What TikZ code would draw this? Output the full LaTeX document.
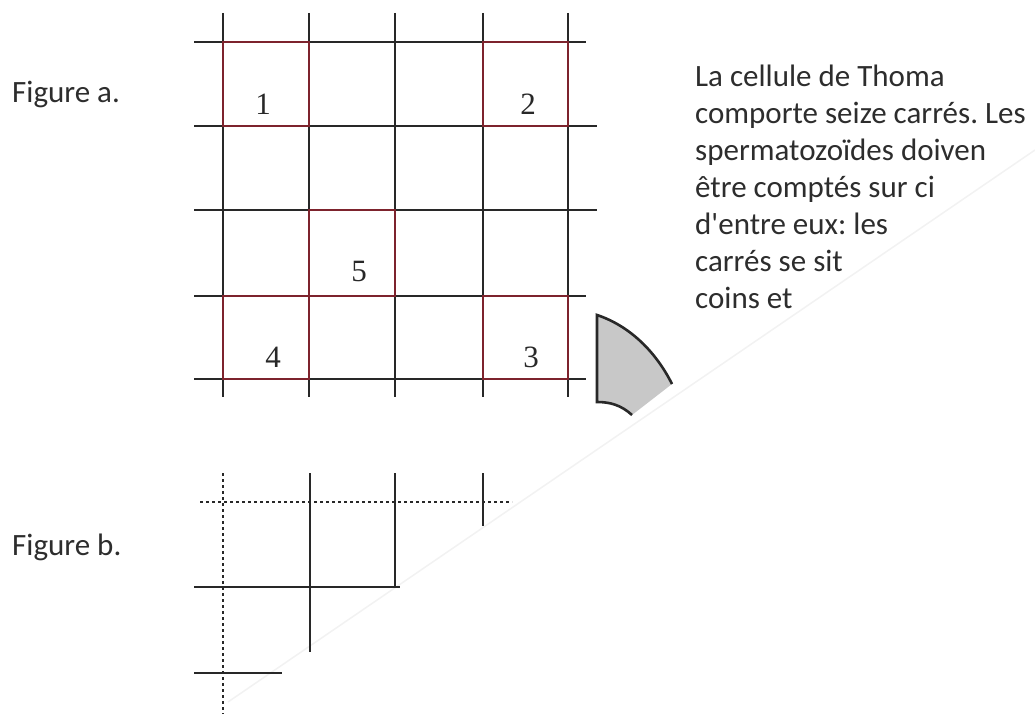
\documentclass[tikz,border=0pt]{standalone}
\usepackage{fontspec}
\setmainfont{Carlito}[Ligatures=TeXOff]
\newfontfamily\chiffres{Liberation Serif}
\usepackage{xcolor}
\usepackage{tikz}
\usetikzlibrary{positioning}
\definecolor{grille}{RGB}{40,40,40}
\definecolor{bordeaux}{RGB}{125,35,45}
\definecolor{gristexte}{RGB}{45,45,45}
\definecolor{grisfond}{RGB}{200,200,200}
\frenchspacing
\tikzset{
  trait/.style={draw=grille,line width=2.1pt},
  carre/.style={draw=bordeaux,line width=2.6pt},
  pointille/.style={draw=grille,line width=2.6pt,dash pattern=on 2.6pt off 3.4pt},
  chiffre/.style={font=\chiffres\fontsize{31}{31}\selectfont,text=grille,inner sep=0pt},
  legende/.style={font=\fontsize{31}{37}\selectfont,text=gristexte,inner sep=0pt}
}

\begin{document}
\begin{tikzpicture}[x=1pt,y=-1pt]
\useasboundingbox (0,0) rectangle (1035,714);
% pli du papier
\draw[black!5,line width=1.5pt] (228,702) -- (1035,150);
% Figure a : cellule de Thoma
\draw[trait] (223,13) -- (223,397);
\draw[trait] (309,13) -- (309,397);
\draw[trait] (395,13) -- (395,397);
\draw[trait] (483,13) -- (483,397);
\draw[trait] (568,13) -- (568,397);
\draw[trait] (194,42) -- (586,42);
\draw[trait] (194,126) -- (597,126);
\draw[trait] (194,210) -- (597,210);
\draw[trait] (194,296) -- (586,296);
\draw[trait] (194,379) -- (586,379);
\draw[carre] (223,42) rectangle (309,126);
\draw[carre] (483,42) rectangle (568,126);
\draw[carre] (309,210) rectangle (395,296);
\draw[carre] (223,296) rectangle (309,379);
\draw[carre] (483,296) rectangle (568,379);
\node[chiffre] (c1) at (263,104) {1};
\node[chiffre] (c2) at (528,104) {2};
\node[chiffre] (c5) at (359,272) {5};
\node[chiffre] (c4) at (273,357) {4};
\node[chiffre] (c3) at (531,357) {3};
% secteur grise
\fill[grisfond] (597,315) .. controls (630,326) and (656,352) .. (672,384)
  -- (632,415) .. controls (621,405) and (610,402) .. (597,402) -- cycle;
\draw[grille,line width=2.6pt] (632,415) .. controls (621,405) and (610,402) .. (597,402)
  -- (597,315) .. controls (630,326) and (656,352) .. (672,384);
% Figure b : bord de la cellule
\draw[pointille] (223,473) -- (223,714);
\draw[pointille] (200,502) -- (512,502);
\draw[trait] (310,473) -- (310,652);
\draw[trait] (395,473) -- (395,587);
\draw[trait] (483,473) -- (483,526);
\draw[trait] (194,587) -- (400,587);
\draw[trait] (194,673) -- (282,673);
% textes
\node[legende,anchor=base west] (figa) at (12,103) {Figure a.};
\node[legende,anchor=base west] (figb) at (12,555) {Figure b.};
\node[legende,anchor=north west,align=left] (texte) at (695,65)
{La cellule de Thoma\\
comporte seize carrés. Les\\
spermatozoïdes doiven\\
être comptés sur ci\\
d'entre eux: les\\
carrés se sit\\
coins et};
\end{tikzpicture}
\end{document}
